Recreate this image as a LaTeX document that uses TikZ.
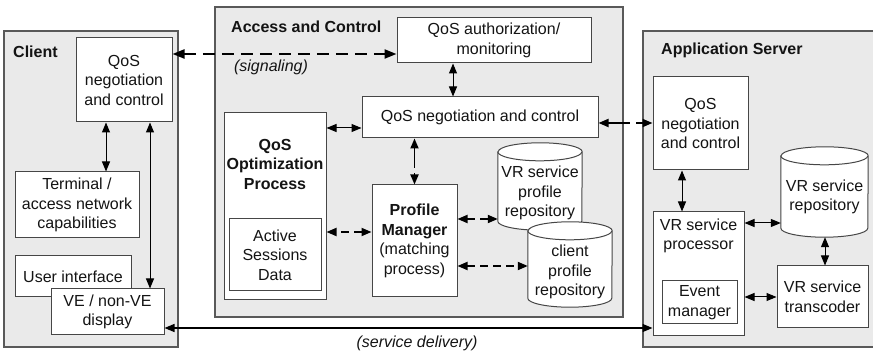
\documentclass[tikz,border=0pt]{standalone}
\usepackage{fontspec}
\setmainfont{Liberation Sans}
\usetikzlibrary{arrows.meta}
\definecolor{panelfill}{RGB}{234,234,234}
\definecolor{edgegray}{RGB}{70,70,70}
\definecolor{ink}{RGB}{20,20,20}
\newcommand\drawcyl[3]{%
  \filldraw[cylst] ([yshift=-#3]#1.north west) -- ([yshift=#3]#1.south west)
     arc[start angle=180, end angle=360, x radius=#2, y radius=#3]
     -- ([yshift=-#3]#1.north east)
     arc[start angle=0, end angle=180, x radius=#2, y radius=#3] -- cycle;
  \draw[cylst] ([yshift=-#3]#1.north west) arc[start angle=180, end angle=360, x radius=#2, y radius=#3];
}
\begin{document}
\begin{tikzpicture}[x=1pt,y=-1pt,
  font=\fontsize{16}{19.5}\selectfont, text=ink,
  panel/.style={draw=edgegray!90, line width=1.2pt, fill=panelfill},
  lbl/.style={font=\fontsize{16}{19.5}\selectfont\bfseries, anchor=west, inner sep=0pt},
  box/.style={draw=edgegray, line width=1pt, fill=white, align=center, inner sep=0pt},
  txt/.style={align=center, inner sep=0pt},
  shape only/.style={inner sep=0pt},
  cylst/.style={draw=edgegray, line width=1pt, fill=white},
  sa/.style={line width=1pt, {Triangle[length=10pt,width=8pt]}-{Triangle[length=10pt,width=8pt]}},
  da/.style={line width=1.8pt, dash pattern=on 8pt off 5pt, {Triangle[length=10pt,width=8pt]}-{Triangle[length=10pt,width=8pt]}},
  sig/.style={line width=2.2pt, dash pattern=on 12pt off 7pt, {Triangle[length=12pt,width=9pt]}-{Triangle[length=12pt,width=9pt]}}
]
\useasboundingbox (0,0) rectangle (873,355);

% panels
\draw[panel] (4,31) rectangle (178,347);
\draw[panel] (215,7) rectangle (623,317);
\draw[panel] (643,31) rectangle (890,347);
\node[lbl] (lclient) at (13,52) {Client};
\node[lbl] (laccess) at (231,27) {Access and Control};
\node[lbl] (lapp) at (661,50) {Application Server};

% client
\node[box, minimum width=96, minimum height=84] (cqos) at (124,80) {QoS\\negotiation\\and control};
\node[box, minimum width=124, minimum height=66] (term) at (77,205) {Terminal /\\access network\\capabilities};
\node[box, minimum width=116, minimum height=41] (ui) at (73,276.5) {User interface};
\node[box, minimum width=113, minimum height=46] (ve) at (107.5,312) {VE / non-VE\\display};

% access and control
\node[box, minimum width=194, minimum height=45] (auth) at (494,40.5) {QoS authorization/\\monitoring};
\node[box, minimum width=236, minimum height=41] (nqos) at (480,117.5) {QoS negotiation and control};
\node[box, minimum width=102, minimum height=187] (opt) at (275,206.5) {};
\node[txt, font=\fontsize{16}{19.5}\selectfont\bfseries] (optt) at (275,164) {QoS\\Optimization\\Process};
\node[box, minimum width=92, minimum height=72] (asd) at (275,255) {Active\\Sessions\\Data};
\node[box, minimum width=85, minimum height=112] (pm) at (414.5,241) {\textbf{Profile}\\\textbf{Manager}\\(matching\\process)};

\node[shape only, minimum width=84, minimum height=87] (vrp) at (540,186.5) {};
\drawcyl{vrp}{42pt}{9pt}
\node[txt] (vrpt) at (540,193) {VR service\\profile\\repository};
\node[shape only, minimum width=84, minimum height=85] (cpr) at (570,264.5) {};
\drawcyl{cpr}{42pt}{9pt}
\node[txt] (cprt) at (570,272) {client\\profile\\repository};

% application server
\node[box, minimum width=95, minimum height=93] (aqos) at (700.5,123.5) {QoS\\negotiation\\and control};
\node[box, minimum width=91, minimum height=124] (proc) at (698.5,274) {};
\node[txt] (proct) at (698.5,236) {VR service\\processor};
\node[box, minimum width=75, minimum height=43] (evt) at (699.5,302.5) {Event\\manager};
\node[shape only, minimum width=87, minimum height=90] (vrr) at (824.5,192) {};
\drawcyl{vrr}{43.5pt}{9pt}
\node[txt] (vrrt) at (824.5,197) {VR service\\repository};
\node[box, minimum width=91, minimum height=62] (trans) at (822.5,297) {VR service\\transcoder};

% connectors
\draw[sa] ([xshift=-18pt]cqos.south) -- ([xshift=-18pt]cqos.south |- term.north);
\draw[sa] ([xshift=26pt]cqos.south) -- ([xshift=26pt]cqos.south |- ve.north);
\draw[sig] ([yshift=26pt]cqos.east) -- ([yshift=26pt]cqos.east -| auth.west);
\node[txt, font=\fontsize{16}{19.5}\selectfont\itshape] (lsig) at (271,67) {(signaling)};
\draw[sa] ([xshift=-41pt]auth.south) -- ([xshift=-41pt]auth.south |- nqos.north);
\draw[sa] ([yshift=-10.5pt]nqos.west) -- ([yshift=-10.5pt]nqos.west -| opt.east);
\draw[da, dash pattern=on 20pt off 5pt] (nqos.south -| pm.north) -- (pm.north);
\draw[da] ([yshift=9pt]pm.west) -- ([yshift=9pt]pm.west -| opt.east);
\draw[da] ([yshift=22pt]pm.east) -- ([yshift=22pt]pm.east -| vrp.west);
\draw[da] ([yshift=-25pt]pm.east) -- ([yshift=-25pt]pm.east -| cpr.west);
\draw[da, dash pattern=on 22pt off 6pt] ([yshift=-5.5pt]nqos.east) -- ([yshift=-5.5pt]nqos.east -| aqos.west);
\draw[sa, line width=1.3pt] ([yshift=-16pt]ve.east) -- ([yshift=-16pt]ve.east -| proc.west);
\node[txt, font=\fontsize{16}{19.5}\selectfont\itshape] (lsd) at (417,343) {(service delivery)};
\draw[sa] ([xshift=-18.5pt]aqos.south) -- ([xshift=-18.5pt]aqos.south |- proc.north);
\draw[sa] ([yshift=51pt]proc.east) -- ([yshift=51pt]proc.east -| vrr.west);
\draw[sa] ([yshift=-23pt]proc.east) -- ([yshift=-23pt]proc.east -| trans.west);
\draw[sa] ([xshift=2.5pt]trans.north) -- ([xshift=2.5pt]trans.north |- vrr.south);
\end{tikzpicture}
\end{document}
